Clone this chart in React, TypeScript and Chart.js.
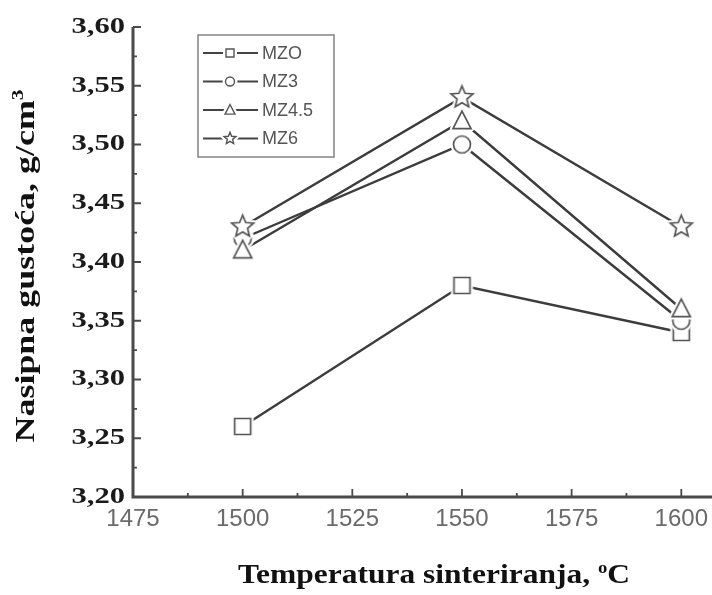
import { useEffect, useRef } from "react";
import { Chart, registerables } from "chart.js";

Chart.register(...registerables);

// ---- data ----
const temperatures = [1500, 1550, 1600];
const seriesNames = ["MZO", "MZ3", "MZ4.5", "MZ6"];
const mzoDensity = [3.26, 3.38, 3.34];
const mz3Density = [3.42, 3.5, 3.35];
const mz45Density = [3.41, 3.52, 3.36];
const mz6Density = [3.43, 3.54, 3.43];
const xTickValues = [1475, 1500, 1525, 1550, 1575, 1600];
const yTickValues = [3.2, 3.25, 3.3, 3.35, 3.4, 3.45, 3.5, 3.55, 3.6];
const xAxisTitle = "Temperatura sinteriranja, ";
const xAxisUnitSup = "o";
const xAxisUnit = "C";
const yAxisTitle = "Nasipna gustoća, g/cm";
const yAxisSup = "3";

type Shape = "square" | "circle" | "triangle" | "star";
const shapes: Shape[] = ["square", "circle", "triangle", "star"];
const markerSizes = [8, 8.5, 9.5, 11.5];
const legendMarkerSizes = [4, 4.5, 5.2, 6.2];

function tracePath(ctx: CanvasRenderingContext2D, shape: Shape, cx: number, cy: number, r: number) {
  ctx.beginPath();
  if (shape === "square") {
    ctx.rect(cx - r, cy - r, 2 * r, 2 * r);
  } else if (shape === "circle") {
    ctx.arc(cx, cy, r, 0, Math.PI * 2);
  } else if (shape === "triangle") {
    ctx.moveTo(cx, cy - r * 1.05);
    ctx.lineTo(cx + r * 0.95, cy + r * 0.8);
    ctx.lineTo(cx - r * 0.95, cy + r * 0.8);
    ctx.closePath();
  } else {
    for (let i = 0; i < 10; i++) {
      const a = -Math.PI / 2 + (i * Math.PI) / 5;
      const rad = i % 2 === 0 ? r : r * 0.45;
      const px = cx + rad * Math.cos(a);
      const py = cy + rad * Math.sin(a);
      if (i === 0) ctx.moveTo(px, py);
      else ctx.lineTo(px, py);
    }
    ctx.closePath();
  }
}

function drawMarker(ctx: CanvasRenderingContext2D, shape: Shape, cx: number, cy: number, r: number, halo: number, stroke: string, lw: number) {
  ctx.save();
  tracePath(ctx, shape, cx, cy, r);
  ctx.fillStyle = "#ffffff";
  ctx.fill();
  if (halo > 0) {
    ctx.lineJoin = "round";
    ctx.strokeStyle = "#ffffff";
    ctx.lineWidth = halo * 2;
    ctx.stroke();
  }
  tracePath(ctx, shape, cx, cy, r);
  ctx.fillStyle = "#ffffff";
  ctx.fill();
  ctx.lineJoin = "miter";
  ctx.strokeStyle = stroke;
  ctx.lineWidth = lw;
  ctx.stroke();
  ctx.restore();
}

function makeMarker(shape: Shape, r: number, halo: number): HTMLCanvasElement {
  const size = Math.ceil(2 * (r * 1.15 + halo + 3));
  const c = document.createElement("canvas");
  c.width = size;
  c.height = size;
  const ctx = c.getContext("2d")!;
  drawMarker(ctx, shape, size / 2, size / 2, r, halo, "#555555", 1.7);
  return c;
}

type Part = { text: string; font: string; dy: number };

function drawRich(ctx: CanvasRenderingContext2D, parts: Part[], cx: number, baseline: number, targetWidth: number) {
  let w = 0;
  for (const p of parts) {
    ctx.font = p.font;
    w += ctx.measureText(p.text).width;
  }
  const sx = targetWidth / w;
  ctx.save();
  ctx.translate(cx - targetWidth / 2, baseline);
  ctx.scale(sx, 1);
  ctx.textBaseline = "alphabetic";
  ctx.textAlign = "left";
  let x = 0;
  for (const p of parts) {
    ctx.font = p.font;
    ctx.fillText(p.text, x, p.dy);
    x += ctx.measureText(p.text).width;
  }
  ctx.restore();
}

const Y_LABEL_STRETCH = 1.33;

const decorPlugin = {
  id: "decor",
  beforeDraw(chart: any) {
    const ys = chart.scales.y;
    if (ys && !ys.__wrapped) {
      const orig = ys.drawLabels;
      ys.drawLabels = function (area: any) {
        const c = this.ctx as CanvasRenderingContext2D;
        const ax = this.right;
        c.save();
        c.translate(ax, 0);
        c.scale(Y_LABEL_STRETCH, 1);
        c.translate(-ax, 0);
        orig.call(this, area);
        c.restore();
      };
      ys.__wrapped = true;
    }
  },
  afterDraw(chart: any) {
    const ctx: CanvasRenderingContext2D = chart.ctx;
    const { left, right, top, bottom } = chart.chartArea;
    const xs = chart.scales.x;
    const ys = chart.scales.y;
    ctx.save();
    // axes
    ctx.strokeStyle = "#4a4a4a";
    ctx.lineWidth = 3;
    ctx.beginPath();
    ctx.moveTo(left, top);
    ctx.lineTo(left, bottom);
    ctx.lineTo(right, bottom);
    ctx.stroke();
    // ticks (inside)
    ctx.lineWidth = 1.8;
    ctx.beginPath();
    xTickValues.forEach((v, i) => {
      const px = xs.getPixelForValue(v);
      ctx.moveTo(px, bottom);
      ctx.lineTo(px, bottom - 8);
      if (i < xTickValues.length - 1) {
        const mx = xs.getPixelForValue((v + xTickValues[i + 1]) / 2);
        ctx.moveTo(mx, bottom);
        ctx.lineTo(mx, bottom - 4);
      }
    });
    yTickValues.forEach((v, i) => {
      const py = ys.getPixelForValue(v);
      ctx.moveTo(left, py);
      ctx.lineTo(left + 8, py);
      if (i < yTickValues.length - 1) {
        const my = ys.getPixelForValue((v + yTickValues[i + 1]) / 2);
        ctx.moveTo(left, my);
        ctx.lineTo(left + 4, my);
      }
    });
    ctx.stroke();

    // legend
    const bx = left + 65;
    const by = top + 8;
    const bw = 136;
    const bh = 122;
    ctx.strokeStyle = "#8a8a8a";
    ctx.lineWidth = 1.6;
    ctx.strokeRect(bx, by, bw, bh);
    seriesNames.forEach((name, i) => {
      const ry = by + 18 + i * 28.5;
      const mx = bx + 32;
      ctx.strokeStyle = "#444444";
      ctx.lineWidth = 2;
      ctx.beginPath();
      ctx.moveTo(bx + 5, ry);
      ctx.lineTo(bx + 60, ry);
      ctx.stroke();
      drawMarker(ctx, shapes[i], mx, ry, legendMarkerSizes[i], 3, "#555555", 1.4);
      ctx.fillStyle = "#555555";
      ctx.font = "18px 'Liberation Sans', Arial, sans-serif";
      ctx.textBaseline = "middle";
      ctx.textAlign = "left";
      ctx.fillText(name, bx + 64, ry + 1);
    });

    // axis titles
    ctx.fillStyle = "#111111";
    const bold = "bold 27px 'Liberation Serif', 'Times New Roman', serif";
    const boldSmall = "bold 16px 'Liberation Serif', 'Times New Roman', serif";
    drawRich(
      ctx,
      [
        { text: xAxisTitle, font: bold, dy: 0 },
        { text: xAxisUnitSup, font: boldSmall, dy: -10 },
        { text: xAxisUnit, font: bold, dy: 0 },
      ],
      434,
      583,
      392
    );
    ctx.save();
    ctx.translate(34, 266);
    ctx.rotate(-Math.PI / 2);
    drawRich(
      ctx,
      [
        { text: yAxisTitle, font: bold, dy: 0 },
        { text: yAxisSup, font: boldSmall, dy: -11 },
      ],
      0,
      0,
      353
    );
    ctx.restore();
    ctx.restore();
  },
};

export default function App() {
  const ref = useRef<HTMLCanvasElement>(null);

  useEffect(() => {
    const canvas = ref.current;
    if (!canvas) return;
    const seriesValues = [mzoDensity, mz3Density, mz45Density, mz6Density];
    const markerImgs = shapes.map((s, i) => makeMarker(s, markerSizes[i], 3));

    const lineDatasets = seriesValues.map((vals, i) => ({
      label: seriesNames[i],
      data: temperatures.map((t, j) => ({ x: t, y: vals[j] })),
      borderColor: "#3c3c3c",
      borderWidth: 2.4,
      pointRadius: 0,
      fill: false,
      tension: 0,
      order: 10,
    }));
    const pointDatasets = seriesValues.map((vals, i) => ({
      label: seriesNames[i] + " markers",
      data: temperatures.map((t, j) => ({ x: t, y: vals[j] })),
      showLine: false,
      pointStyle: markerImgs[i] as any,
      pointRadius: 9,
      pointHoverRadius: 9,
      order: 5 - i,
    }));

    const chart = new Chart(canvas, {
      type: "line",
      data: { datasets: [...lineDatasets, ...pointDatasets] as any },
      options: {
        animation: false,
        responsive: true,
        maintainAspectRatio: false,
        layout: { autoPadding: false, padding: { top: 27, right: 0, left: 0, bottom: 0 } },
        plugins: {
          legend: { display: false },
          tooltip: { enabled: false },
        },
        scales: {
          x: {
            type: "linear",
            min: 1475,
            max: 1607,
            afterBuildTicks: (scale: any) => {
              scale.ticks = xTickValues.map((v) => ({ value: v }));
            },
            afterFit: (scale: any) => {
              scale.height = 98;
              scale.paddingLeft = 0;
              scale.paddingRight = 0;
            },
            grid: { display: false, drawTicks: false },
            border: { display: false },
            ticks: {
              padding: 8,
              maxRotation: 0,
              autoSkip: false,
              color: "#6a6a6a",
              font: { family: "'Liberation Sans', Arial, sans-serif", size: 24 },
              callback: (v: any) => String(v),
            },
          },
          y: {
            type: "linear",
            min: 3.2,
            max: 3.6,
            afterBuildTicks: (scale: any) => {
              scale.ticks = yTickValues.map((v) => ({ value: v }));
            },
            afterFit: (scale: any) => {
              scale.width = 133;
              scale.paddingTop = 0;
              scale.paddingBottom = 0;
            },
            grid: { display: false, drawTicks: false },
            border: { display: false },
            ticks: {
              padding: 6,
              autoSkip: false,
              color: "#1a1a1a",
              font: { family: "'Liberation Serif', 'Times New Roman', serif", size: 23, weight: "bold" },
              callback: (v: any) => Number(v).toFixed(2).replace(".", ","),
            },
          },
        },
      },
      plugins: [decorPlugin as any],
    });
    return () => chart.destroy();
  }, []);

  return (
    <div style={{ position: "absolute", left: 0, top: 0, width: 712, height: 595, background: "#fff" }}>
      <canvas ref={ref} />
    </div>
  );
}
